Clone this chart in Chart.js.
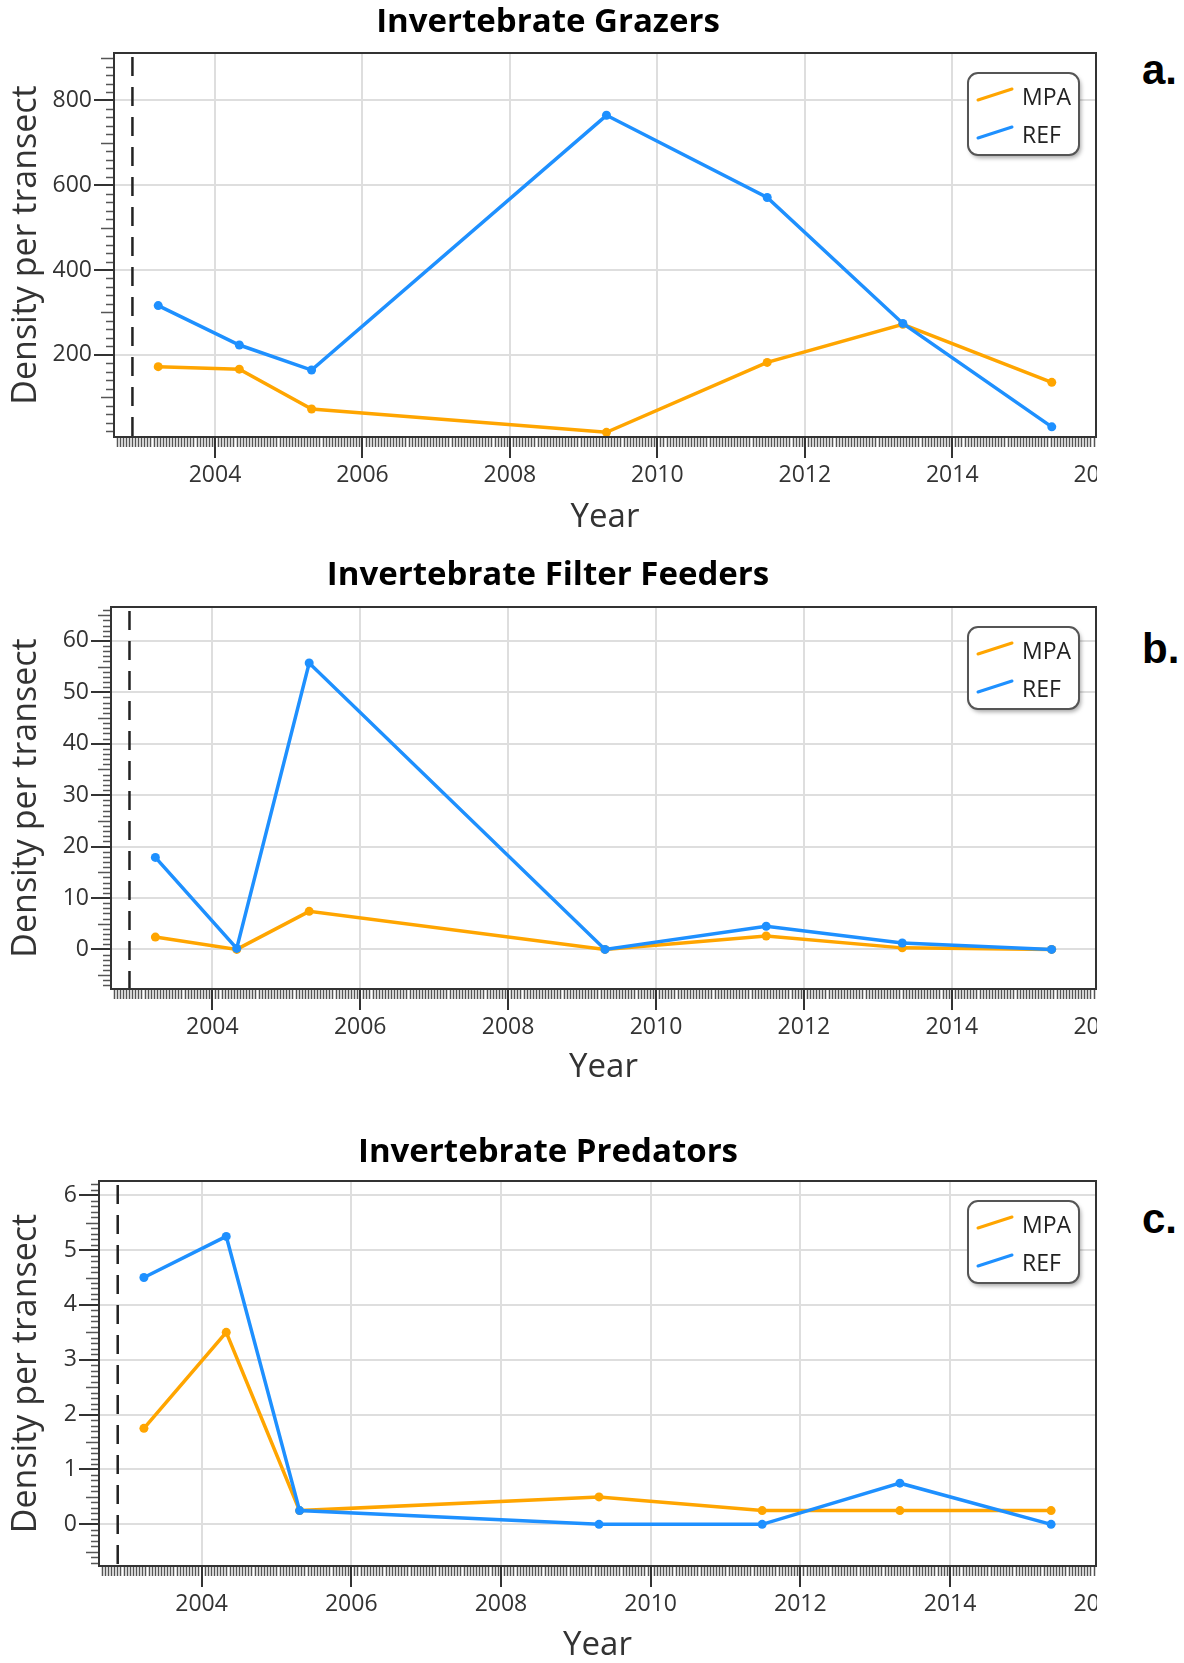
<!DOCTYPE html>
<html lang="en">
<head>
<meta charset="UTF-8">
<title>Invertebrate density per transect</title>
<style>
  body {
    margin: 0;
    padding: 0;
    background: #fff;
    width: 1184px;
    height: 1663px;
    position: relative;
    overflow: hidden;
  }
  .panel {
    position: absolute;
    left: 0;
    width: 1097px;
    overflow: hidden;
  }
  .panel canvas {
    display: block;
  }
  .tag {
    position: absolute;
    left: 1142px;
    font: bold 42px "Liberation Sans", Arial, sans-serif;
    line-height: 42px;
    color: #000;
  }
</style>
<script src="https://cdn.jsdelivr.net/npm/chart.js"></script>
</head>
<body>
<div class="panel" style="top:0px;height:540px"><canvas id="grazers" width="1097" height="540"></canvas></div>
<div class="panel" style="top:540px;height:550px"><canvas id="filter" width="1097" height="550"></canvas></div>
<div class="panel" style="top:1090px;height:578px"><canvas id="predators" width="1097" height="578"></canvas></div>
<div class="tag" style="top:49px">a.</div>
<div class="tag" style="top:628px">b.</div>
<div class="tag" style="top:1198px">c.</div>

<script>
// survey dates (decimal years) shared by all three groups
const surveyYears = [2003.23, 2004.33, 2005.31, 2009.31, 2011.49, 2013.33, 2015.35];
const seriesNames = ['MPA', 'REF'];
const seriesColors = ['#FFA500', '#1E90FF'];

const grazersMPA = [172, 166, 72, 17, 182, 272, 135];
const grazersREF = [316, 223, 164, 765, 571, 274, 30];
const filterMPA = [2.4, 0, 7.4, 0, 2.6, 0.3, 0];
const filterREF = [17.9, 0.2, 55.7, 0, 4.5, 1.25, 0];
const predatorMPA = [1.75, 3.5, 0.25, 0.5, 0.25, 0.25, 0.25];
const predatorREF = [4.5, 5.25, 0.25, 0, 0, 0.75, 0];

const yearTicks = [2004, 2006, 2008, 2010, 2012, 2014, 2016];
const grazersTicks = [200, 400, 600, 800];
const filterTicks = [0, 10, 20, 30, 40, 50, 60];
const predatorTicks = [0, 1, 2, 3, 4, 5, 6];

// dashed marker year drawn across each plot
const markerYear = 2002.88;
const yearMin = 2002.63, yearMax = 2015.95;

const FONT = '"Open Sans", "Segoe UI", sans-serif';
const AXIS = '#333';
const TITLE_SIZE = 33;

const panels = [
    { id: 'grazers', title: 'Invertebrate Grazers', h: 540, left: 114, top: 53, bottom: 437, titleMid: 23,
      series: [grazersMPA, grazersREF], ticks: grazersTicks, yMin: 6, yMax: 912, minor: 20, mid: 100, major: 200 },
    { id: 'filter', title: 'Invertebrate Filter Feeders', h: 550, left: 111, top: 67, bottom: 449, titleMid: 36,
      series: [filterMPA, filterREF], ticks: filterTicks, yMin: -7.7, yMax: 66.6, minor: 1, mid: 5, major: 10 },
    { id: 'predators', title: 'Invertebrate Predators', h: 578, left: 99, top: 91, bottom: 476, titleMid: 63,
      series: [predatorMPA, predatorREF], ticks: predatorTicks, yMin: -0.76, yMax: 6.26, minor: 0.1, mid: 0.5, major: 1 }
];

// short ticks between the labelled ones, plus the plot frame
const minorTicks = {
    id: 'minorTicks',
    afterDraw(chart, args, opts) {
        const { ctx, chartArea: a, scales: { x, y } } = chart;
        ctx.save();
        ctx.strokeStyle = '#555';
        ctx.lineWidth = 1.5;
        ctx.beginPath();
        const xs = 1 / 24;
        for (let k = Math.ceil(x.min / xs); k * xs <= x.max; k++) {
            const v = k * xs;
            if (Math.abs(v - Math.round(v / 2) * 2) < 1e-6) continue;
            const px = Math.round(x.getPixelForValue(v)) + 0.5;
            ctx.moveTo(px, a.bottom);
            ctx.lineTo(px, a.bottom + 10);
        }
        const s = opts.minor;
        for (let k = Math.ceil(y.min / s - 1e-6); k * s <= y.max + 1e-9; k++) {
            const v = k * s;
            if (Math.abs(v / opts.major - Math.round(v / opts.major)) < 1e-6) continue;
            const isMid = Math.abs(v / opts.mid - Math.round(v / opts.mid)) < 1e-6;
            const py = Math.round(y.getPixelForValue(v)) + 0.5;
            ctx.moveTo(a.left, py);
            ctx.lineTo(a.left - (isMid ? 13 : 8), py);
        }
        ctx.stroke();
        ctx.lineWidth = 2;
        ctx.strokeStyle = AXIS;
        ctx.strokeRect(a.left, a.top, a.right - a.left, a.bottom - a.top);
        ctx.restore();
    }
};

const markerLine = {
    id: 'markerLine',
    beforeDatasetsDraw(chart) {
        const { ctx, chartArea: a, scales: { x } } = chart;
        const px = x.getPixelForValue(markerYear);
        ctx.save();
        ctx.strokeStyle = '#222';
        ctx.lineWidth = 2.5;
        ctx.setLineDash([19, 11]);
        ctx.beginPath();
        ctx.moveTo(px, a.top + 4);
        ctx.lineTo(px, a.bottom);
        ctx.stroke();
        ctx.restore();
    }
};

// rounded legend box in the upper right corner of the plot
const boxLegend = {
    id: 'boxLegend',
    afterDraw(chart) {
        const { ctx, chartArea: a } = chart;
        const w = 111, h = 82;
        const left = a.right - 17 - w, top = a.top + 20;
        ctx.save();
        ctx.shadowColor = 'rgba(0,0,0,0.35)';
        ctx.shadowBlur = 4;
        ctx.shadowOffsetX = 2;
        ctx.shadowOffsetY = 3;
        ctx.beginPath();
        ctx.roundRect(left, top, w, h, 10);
        ctx.fillStyle = '#fff';
        ctx.fill();
        ctx.shadowColor = 'transparent';
        ctx.lineWidth = 2;
        ctx.strokeStyle = '#555';
        ctx.stroke();
        chart.data.datasets.forEach((ds, i) => {
            const cy = top + 24 + i * 38;
            ctx.beginPath();
            ctx.moveTo(left + 10, cy + 3);
            ctx.lineTo(left + 44, cy - 8);
            ctx.strokeStyle = ds.borderColor;
            ctx.lineWidth = 3;
            ctx.lineCap = 'round';
            ctx.stroke();
            ctx.fillStyle = '#222';
            ctx.font = '23px ' + FONT;
            ctx.textBaseline = 'middle';
            ctx.fillText(ds.label, left + 54, cy + 1);
        });
        ctx.restore();
    }
};

function makePanel(p) {
    const ctx = document.getElementById(p.id).getContext('2d');
    const titleLine = TITLE_SIZE * 1.2;
    const titleTop = p.titleMid - titleLine / 2;
    return new Chart(ctx, {
        type: 'line',
        data: {
            datasets: seriesNames.map((name, i) => ({
                label: name,
                data: surveyYears.map((yr, j) => ({ x: yr, y: p.series[i][j] })),
                borderColor: seriesColors[i],
                backgroundColor: seriesColors[i],
                pointBackgroundColor: seriesColors[i],
                borderWidth: 3.5,
                pointRadius: 4.5,
                pointBorderWidth: 0,
                tension: 0,
                order: seriesNames.length - i
            }))
        },
        options: {
            responsive: false,
            animation: false,
            layout: { autoPadding: false, padding: { left: 0, right: 1, top: 0, bottom: 0 } },
            plugins: {
                legend: { display: false },
                tooltip: { enabled: false },
                title: {
                    display: true,
                    text: p.title,
                    color: '#000',
                    font: { family: FONT, size: TITLE_SIZE, weight: 'bold' },
                    padding: { top: titleTop, bottom: p.top - titleTop - titleLine }
                },
                minorTicks: { minor: p.minor, mid: p.mid, major: p.major }
            },
            scales: {
                x: {
                    type: 'linear',
                    min: yearMin,
                    max: yearMax,
                    bounds: 'data',
                    afterBuildTicks: s => { s.ticks = yearTicks.map(v => ({ value: v })); },
                    afterFit: s => { s.height = p.h - p.bottom; s.paddingLeft = 0; s.paddingRight = 0; },
                    ticks: {
                        autoSkip: false,
                        maxRotation: 0,
                        padding: 4,
                        color: AXIS,
                        font: { family: FONT, size: 23 },
                        callback: v => String(v)
                    },
                    grid: { color: '#dedede', lineWidth: 2, tickLength: 21, tickColor: AXIS, tickWidth: 2 },
                    border: { display: false },
                    title: {
                        display: true,
                        text: 'Year',
                        color: AXIS,
                        font: { family: FONT, size: 33 },
                        padding: { top: 0, bottom: 3 }
                    }
                },
                y: {
                    min: p.yMin,
                    max: p.yMax,
                    bounds: 'data',
                    afterBuildTicks: s => { s.ticks = p.ticks.map(v => ({ value: v })); },
                    afterFit: s => { s.width = p.left; s.paddingTop = 0; s.paddingBottom = 0; },
                    ticks: {
                        padding: 2,
                        color: AXIS,
                        font: { family: FONT, size: 23 },
                        callback: v => String(v)
                    },
                    grid: { color: '#dedede', lineWidth: 2, tickLength: 20, tickColor: AXIS, tickWidth: 2 },
                    border: { display: false },
                    title: {
                        display: true,
                        text: 'Density per transect',
                        color: AXIS,
                        font: { family: FONT, size: 34 },
                        padding: { top: 5.6, bottom: 0 }
                    }
                }
            }
        },
        plugins: [markerLine, minorTicks, boxLegend]
    });
}

Promise.all([
    document.fonts.load('30px "Open Sans"'),
    document.fonts.load('bold 30px "Open Sans"')
]).catch(() => {}).then(() => panels.forEach(makePanel));
</script>
</body>
</html>
